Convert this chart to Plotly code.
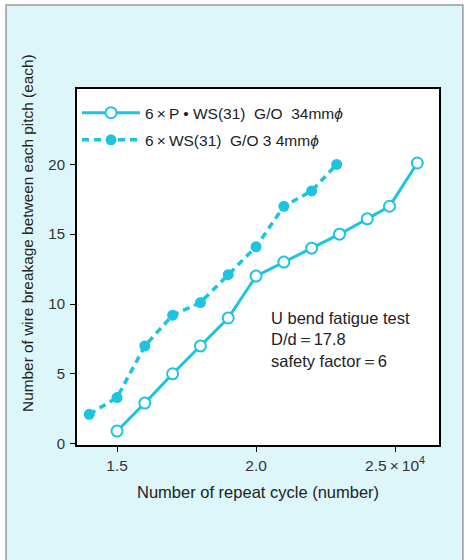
import plotly.graph_objects as go

# Data
cycles_pws = [1.5, 1.6, 1.7, 1.8, 1.9, 2.0, 2.1, 2.2, 2.3, 2.4, 2.48, 2.58]
breaks_pws = [0.9, 2.9, 5.0, 7.0, 9.0, 12.0, 13.0, 14.0, 15.0, 16.1, 17.0, 20.1]

cycles_ws = [1.4, 1.5, 1.6, 1.7, 1.8, 1.9, 2.0, 2.1, 2.2, 2.29]
breaks_ws = [2.1, 3.3, 7.0, 9.2, 10.1, 12.1, 14.1, 17.0, 18.1, 20.0]

name_pws = "6\u2009×\u2009P • WS(31)\u00a0\u00a0G/O\u00a0\u00a034mm<i>\u03d5</i>"
name_ws = "6\u2009×\u2009WS(31)\u00a0\u00a0G/O 3 4mm<i>\u03d5</i>"

x_tickvals = [1.5, 2.0, 2.5]
x_ticktext = ["1.5", "2.0", "2.5\u2009×\u200910<sup>4</sup>"]
y_tickvals = [0, 5, 10, 15, 20]

CYAN = "#1cc4e2"
FONT = "Liberation Sans, Arial, sans-serif"

fig = go.Figure()
fig.add_trace(go.Scatter(
    x=cycles_pws, y=breaks_pws, name=name_pws, mode="lines+markers",
    legendgroup="a",
    line=dict(color=CYAN, width=3),
    marker=dict(symbol="circle", size=11, color="white", line=dict(color=CYAN, width=2)),
))
fig.add_trace(go.Scatter(
    x=cycles_ws, y=breaks_ws, name=name_ws, mode="lines+markers",
    legendgroup="b",
    line=dict(color=CYAN, width=3.5, dash="7px,5px"),
    marker=dict(symbol="circle", size=11, color=CYAN),
))

fig.add_annotation(
    x=2.045, y=9.75, xref="x", yref="y", xanchor="left", yanchor="top",
    text="U bend fatigue test<br>D/d\uff1d17.8<br>safety factor\uff1d6",
    showarrow=False, align="left",
    font=dict(family=FONT, size=16.5, color="#222"),
)

# axis titles
fig.add_annotation(
    x=-0.135, y=0.596, xref="paper", yref="paper", xanchor="center", yanchor="middle",
    text="Number of wire breakage between each pitch (each)", textangle=-90,
    showarrow=False, font=dict(family=FONT, size=15.4, color="#222"),
)
fig.add_annotation(
    x=0.5, y=-0.132, xref="paper", yref="paper", xanchor="center", yanchor="middle",
    text="Number of repeat cycle (number)",
    showarrow=False, font=dict(family=FONT, size=16.5, color="#222"),
)

# outer panel background with grey border, then white plot area on top
fig.add_shape(type="rect", xref="paper", yref="paper",
              x0=-0.196, x1=1.066, y0=-0.6, y1=1.236,
              fillcolor="#dcf6f9", line=dict(color="#9a9a9a", width=1.5), layer="below")
fig.add_shape(type="rect", xref="paper", yref="paper",
              x0=0, x1=1, y0=0, y1=1,
              fillcolor="white", line=dict(width=0), layer="below")

fig.update_layout(
    width=466, height=560,
    margin=dict(l=77, r=27, t=89, b=115),
    paper_bgcolor="white", plot_bgcolor="white",
    font=dict(family=FONT, size=13, color="#222"),
    showlegend=True,
    legend=dict(x=0.0, y=0.98, xanchor="left", yanchor="top",
                bgcolor="rgba(0,0,0,0)", font=dict(size=15.5, color="#222"),
                traceorder="grouped", tracegroupgap=4, itemwidth=58),
    xaxis=dict(range=[1.356, 2.658], tickvals=x_tickvals, ticktext=x_ticktext,
               showgrid=False, zeroline=False, showline=True, linecolor="black",
               linewidth=2, mirror=True, ticks="outside", ticklen=5, tickcolor="black",
               tickfont=dict(size=15.5, color="#333")),
    yaxis=dict(range=[-0.1, 25.4], tickvals=y_tickvals,
               showgrid=False, zeroline=False, showline=True, linecolor="black",
               linewidth=2, mirror=True, ticks="outside", ticklen=5, tickcolor="black",
               ticklabelstandoff=2,
               tickfont=dict(size=15, color="#333")),
)

fig.write_html("out.html", config={"displayModeBar": False},
               post_script="document.body.style.margin='0px';")
